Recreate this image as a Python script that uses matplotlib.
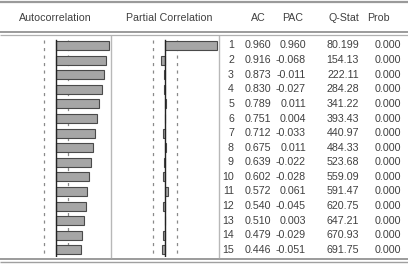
import matplotlib
matplotlib.use("Agg")
import matplotlib.pyplot as plt
import numpy as np

lags = list(range(1, 16))
ac = [0.960, 0.916, 0.873, 0.830, 0.789, 0.751, 0.712, 0.675, 0.639, 0.602,
      0.572, 0.540, 0.510, 0.479, 0.446]
pac = [0.960, -0.068, -0.011, -0.027, 0.011, 0.004, -0.033, 0.011, -0.022, -0.028,
       0.061, -0.045, 0.003, -0.029, -0.051]
qstat = [80.199, 154.13, 222.11, 284.28, 341.22, 393.43, 440.97, 484.33, 523.68,
         559.09, 591.47, 620.75, 647.21, 670.93, 691.75]
prob = [0.000] * 15
headers = ["Autocorrelation", "Partial Correlation", "AC", "PAC", "Q-Stat", "Prob"]
conf_bound = 0.215

W, H = 408, 266
fig = plt.figure(figsize=(W / 100, H / 100), dpi=100)
fig.patch.set_facecolor("white")

FONT = "Liberation Sans"
FS = 7.7
TXT = "#404040"

# pixel geometry
row0_y = 45.5
row_dy = 14.6
top_px, bot_px = 36.0, 257.0

def fy(px):
    return 1 - px / H

def fx(px):
    return px / W

# base axes in pixel coordinates
base = fig.add_axes([0, 0, 1, 1])
base.set_xlim(0, W)
base.set_ylim(H, 0)
base.axis("off")

# horizontal rules
base.plot([0, W], [2.0, 2.0], color="#9a9a9a", lw=1.6, solid_capstyle="butt")
base.plot([0, W], [32.0, 32.0], color="#8a8a8a", lw=1.2, solid_capstyle="butt")
base.plot([0, W], [35.0, 35.0], color="#b0b0b0", lw=0.9, solid_capstyle="butt")
base.plot([0, W], [258.5, 258.5], color="#8a8a8a", lw=1.2, solid_capstyle="butt")
base.plot([0, W], [262.0, 262.0], color="#a0a0a0", lw=1.0, solid_capstyle="butt")

# panel separators
for xs in (111, 219):
    base.plot([xs, xs], [top_px, bot_px], color="#b8b8b8", lw=1.0)

# headers
hx = [55, 169, 258, 293, 344, 378]
for h, x in zip(headers, hx):
    base.text(x, 18, h, ha="center", va="center", fontsize=FS, family=FONT, color=TXT)

# row texts
col_right = [234, 271, 306, 359, 401]
for i, lag in enumerate(lags):
    y = row0_y + i * row_dy
    vals = [str(lag), f"{ac[i]:.3f}", f"{pac[i]:.3f}", f"{qstat[i]:#.5g}", f"{prob[i]:.3f}"]
    for v, x in zip(vals, col_right):
        base.text(x, y, v, ha="right", va="center", fontsize=FS, family=FONT, color=TXT)

# bar panels
ylim_top = 1 + (top_px - row0_y) / row_dy
ylim_bot = 1 + (bot_px - row0_y) / row_dy

def panel(x0, x1, values):
    ax = fig.add_axes([fx(x0), fy(bot_px), fx(x1 - x0), (bot_px - top_px) / H])
    ax.set_xlim(-1, 1)
    ax.set_ylim(ylim_bot, ylim_top)
    ax.axis("off")
    ax.patch.set_alpha(0)
    ax.barh(lags, values, height=0.62, left=0, color="#a6a6a6",
            edgecolor="#4a4a4a", linewidth=0.8, zorder=2)
    ax.plot([0, 0], [0.6, 15.4], color="#222222", lw=1.0, zorder=3)
    for b in (-conf_bound, conf_bound):
        ax.plot([b, b], [0.6, 15.4], color="#8a8a8a", lw=0.9,
                linestyle=(0, (2.5, 3.5)), zorder=1)
    return ax

panel(1, 111, ac)
panel(111, 219, pac)

fig.savefig("out.png", dpi=100, facecolor="white")
